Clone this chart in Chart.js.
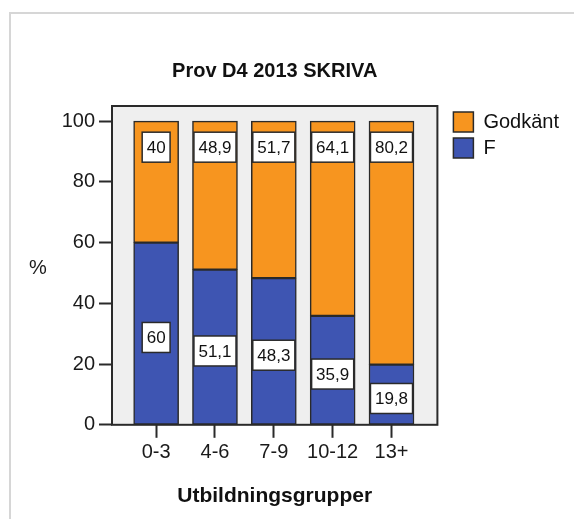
<!DOCTYPE html>
<html>
<head>
<meta charset="utf-8">
<script src="https://cdn.jsdelivr.net/npm/chart.js@4/dist/chart.umd.min.js"></script>
<style>
  html, body { margin: 0; padding: 0; background: #fff; }
  #wrap { width: 574px; height: 519px; }
</style>
</head>
<body>
<div id="wrap"><canvas id="myChart" width="574" height="519"></canvas></div>
<script>
const groups = ['0-3', '4-6', '7-9', '10-12', '13+']
const fValues = [60, 51.1, 48.3, 35.9, 19.8]
const godkantValues = [40, 48.9, 51.7, 64.1, 80.2]
const yTicks = [0, 20, 40, 60, 80, 100]

const FONT = "'Liberation Sans', Arial, sans-serif"
const ORANGE = '#f7951f'
const BLUE = '#3e55b2'
const EDGE = '#2a2a2a'

function toPoints (values) {
    return values.map((v, i) => ({x: i, y: v}))
}

function fmt (v) {
    return String(v).replace('.', ',')
}

// white frame, grey plot background, box round the plot
const backdrop = {
    id: 'backdrop',
    beforeDraw (chart) {
        const {ctx, chartArea: a} = chart
        ctx.save()
        ctx.fillStyle = '#fff'
        ctx.fillRect(0, 0, chart.width, chart.height)
        ctx.strokeStyle = '#d6d6d6'
        ctx.lineWidth = 2
        ctx.strokeRect(10, 13, chart.width + 20, chart.height + 20)
        ctx.fillStyle = '#efefef'
        ctx.fillRect(a.left, a.top, a.right - a.left, a.bottom - a.top)
        ctx.restore()
    },
    beforeDatasetsDraw (chart) {
        const {ctx, chartArea: a} = chart
        ctx.save()
        ctx.strokeStyle = EDGE
        ctx.lineWidth = 2
        ctx.strokeRect(a.left, a.top, a.right - a.left, a.bottom - a.top)
        ctx.restore()
    },
    afterDraw (chart) {
        const {ctx, chartArea: a} = chart
        ctx.save()
        ctx.fillStyle = '#1a1a1a'
        ctx.font = '20px ' + FONT
        ctx.textAlign = 'center'
        ctx.textBaseline = 'middle'
        ctx.fillText('%', chart.scales.y.left + 38, (a.top + a.bottom) / 2 + 3)
        ctx.restore()
    }
}

// boxed value labels like the SPSS output
const boxLabels = {
    id: 'boxLabels',
    afterDatasetsDraw (chart) {
        const {ctx} = chart
        ctx.save()
        ctx.font = '17px ' + FONT
        ctx.textAlign = 'center'
        ctx.textBaseline = 'middle'
        chart.data.datasets.forEach((ds, di) => {
            const meta = chart.getDatasetMeta(di)
            meta.data.forEach((bar, i) => {
                const txt = fmt(ds.data[i].y)
                const cy = di === 0 ? (bar.y + bar.base) / 2 + 4 : bar.y + 26
                const w = ctx.measureText(txt).width + 9
                const h = 30
                ctx.fillStyle = '#fff'
                ctx.fillRect(bar.x - w / 2, cy - h / 2, w, h)
                ctx.strokeStyle = EDGE
                ctx.lineWidth = 1.5
                ctx.strokeRect(bar.x - w / 2, cy - h / 2, w, h)
                ctx.fillStyle = '#111'
                ctx.fillText(txt, bar.x, cy + 1)
            })
        })
        ctx.restore()
    }
}

const chartContext = document.getElementById('myChart').getContext('2d')
const myChart = new Chart(chartContext, {
    type: 'bar',
    data: {
        datasets: [
            {
                label: 'F',
                data: toPoints(fValues),
                backgroundColor: BLUE,
                borderColor: EDGE,
                borderWidth: 1.5,
                borderSkipped: false,
                barThickness: 45
            },
            {
                label: 'Godkänt',
                data: toPoints(godkantValues),
                backgroundColor: ORANGE,
                borderColor: EDGE,
                borderWidth: 1.5,
                borderSkipped: false,
                barThickness: 45
            }
        ]
    },
    options: {
        responsive: false,
        animation: false,
        layout: {padding: {left: 0, right: 5, top: 0, bottom: 10}},
        plugins: {
            title: {
                display: true,
                text: 'Prov D4 2013 SKRIVA',
                fullSize: false,
                color: '#111',
                font: {family: FONT, size: 20, weight: 'bold'},
                padding: {top: 59, bottom: 23}
            },
            legend: {
                position: 'right',
                align: 'start',
                fullSize: false,
                maxWidth: 140,
                reverse: true,
                labels: {
                    boxWidth: 20,
                    boxHeight: 20,
                    padding: 6,
                    color: '#111',
                    font: {family: FONT, size: 20}
                }
            },
            tooltip: {enabled: false}
        },
        scales: {
            x: {
                type: 'linear',
                stacked: true,
                offset: false,
                min: -0.75,
                max: 4.78,
                grid: {
                    offset: false,
                    drawOnChartArea: false,
                    drawTicks: true,
                    tickLength: 13,
                    tickColor: EDGE,
                    tickWidth: 2
                },
                border: {display: false},
                ticks: {
                    stepSize: 1,
                    includeBounds: false,
                    autoSkip: false,
                    maxRotation: 0,
                    padding: 3,
                    color: '#1a1a1a',
                    font: {family: FONT, size: 20},
                    callback: (val) => groups[val] !== undefined ? groups[val] : ''
                },
                title: {
                    display: true,
                    text: 'Utbildningsgrupper',
                    color: '#111',
                    font: {family: FONT, size: 21, weight: 'bold'},
                    padding: {top: 16, bottom: 0}
                }
            },
            y: {
                stacked: true,
                min: 0,
                max: 105,
                afterFit: (scale) => { scale.width = 112 },
                afterBuildTicks: (scale) => { scale.ticks = yTicks.map(v => ({value: v})) },
                grid: {
                    drawOnChartArea: false,
                    drawTicks: true,
                    tickLength: 13,
                    tickColor: EDGE,
                    tickWidth: 2
                },
                border: {display: false},
                ticks: {
                    padding: 4,
                    color: '#1a1a1a',
                    font: {family: FONT, size: 20}
                }
            },
            gap: {
                type: 'linear',
                position: 'right',
                display: true,
                grid: {display: false},
                border: {display: false},
                ticks: {display: false},
                afterFit: (scale) => { scale.width = 10 }
            }
        }
    },
    plugins: [backdrop, boxLabels]
})
</script>
</body>
</html>
